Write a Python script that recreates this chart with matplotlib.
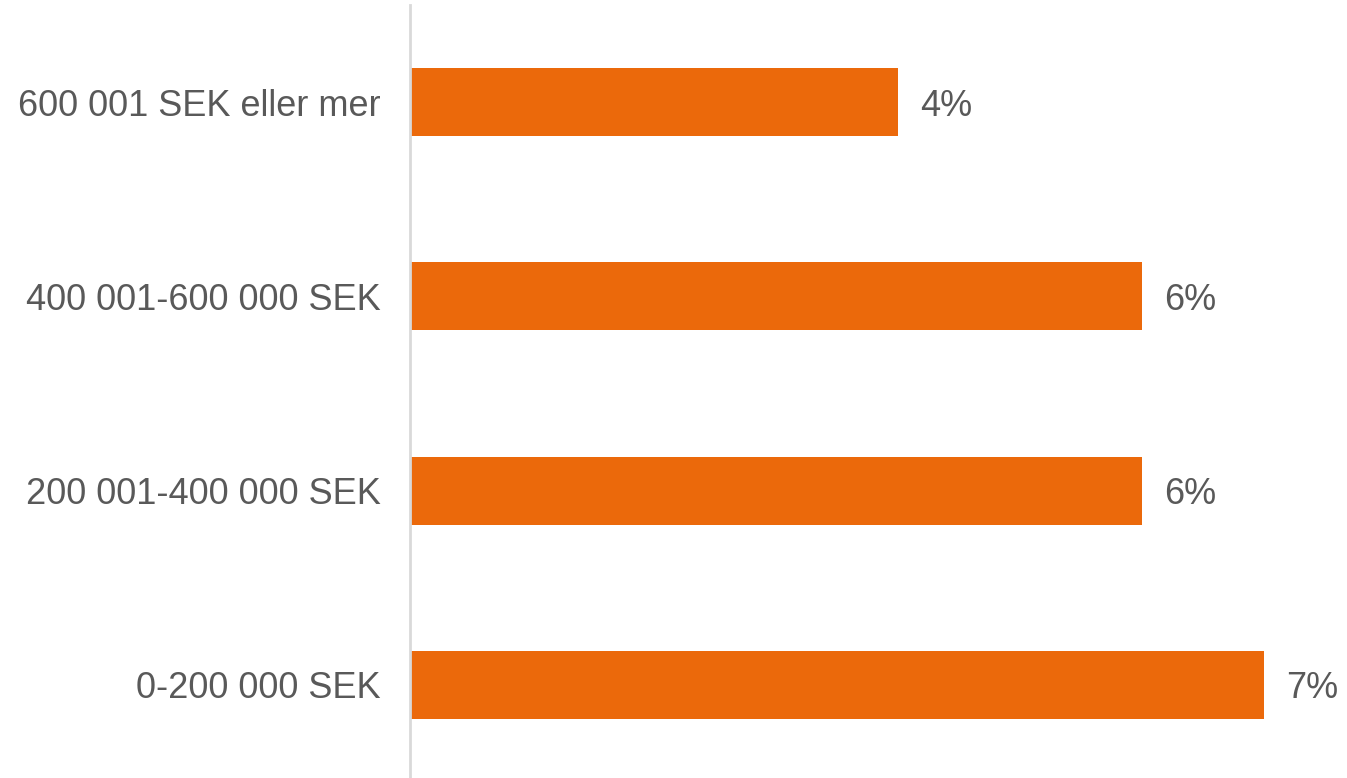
import matplotlib
matplotlib.use("Agg")
import matplotlib.pyplot as plt

categories = ["0-200 000 SEK", "200 001-400 000 SEK",
              "400 001-600 000 SEK", "600 001 SEK eller mer"]
values = [7, 6, 6, 4]
value_labels = ["7%", "6%", "6%", "4%"]

plt.rcParams['font.family'] = ['Liberation Sans', 'DejaVu Sans']

fig = plt.figure(figsize=(13.47, 7.78), dpi=100)
ax = fig.add_axes([410 / 1347, 0, 1 - 410 / 1347, 773 / 778])

bars = ax.barh(range(len(categories)), values, height=0.35, color="#EB690B")

for bar, lab in zip(bars, value_labels):
    ax.annotate(lab, (bar.get_width(), bar.get_y() + bar.get_height() / 2),
                xytext=(16, 0), textcoords="offset points",
                va="center_baseline", ha="left", fontsize=26, color="#595959")

ax.set_yticks(range(len(categories)))
ax.set_yticklabels(categories, fontsize=26, color="#595959")
ax.tick_params(axis="y", length=0, pad=21)
ax.set_xticks([])
ax.set_xlim(0, 7.68)
ax.set_ylim(-0.48, 3.5)

for side in ["top", "right", "bottom"]:
    ax.spines[side].set_visible(False)
ax.spines["left"].set_color("#d9d9d9")
ax.spines["left"].set_linewidth(2)

fig.savefig("out.png", dpi=100)
